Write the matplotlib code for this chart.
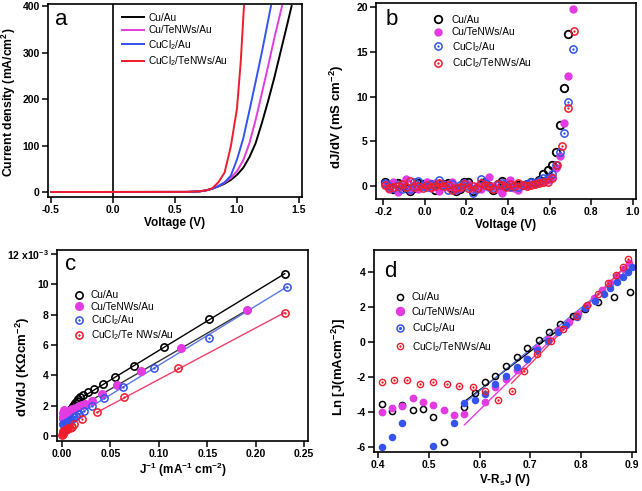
import matplotlib
matplotlib.use("Agg")
import matplotlib.pyplot as plt
from matplotlib.legend_handler import HandlerTuple

plt.rcParams['font.family'] = ['Liberation Sans', 'DejaVu Sans']
plt.rcParams['mathtext.fontset'] = 'custom'
plt.rcParams['mathtext.rm'] = 'Liberation Sans'
plt.rcParams['mathtext.bf'] = 'Liberation Sans:bold'
plt.rcParams['mathtext.default'] = 'bf'
plt.rcParams['axes.unicode_minus'] = False

# ---------------- data ----------------
labels = ['Cu/Au', 'Cu/TeNWs/Au', r'CuCl$_\mathregular{2}$/Au', r'CuCl$_\mathregular{2}$/TeNWs/Au']
labels_c = ['Cu/Au', 'Cu/TeNWs/Au', r'CuCl$_\mathregular{2}$/Au', r'CuCl$_\mathregular{2}$/Te NWs/Au']
col_k, col_m, col_b, col_r = 'black', '#e23be2', '#3453ef', '#f01c2c'

# panel a : J-V curves
va_k = [-0.5, 0.6, 0.7, 0.75, 0.8, 0.85, 0.9, 0.95, 1.0, 1.05, 1.1, 1.15, 1.2, 1.25, 1.3, 1.35, 1.4, 1.44]
ja_k = [0, 0.3, 1.5, 3.5, 7, 12, 18, 26, 37, 52, 75, 105, 148, 195, 245, 300, 355, 400]
va_m = [-0.5, 0.6, 0.7, 0.75, 0.8, 0.85, 0.9, 0.95, 1.0, 1.05, 1.1, 1.15, 1.2, 1.25, 1.3, 1.363]
ja_m = [0, 0.3, 1.5, 3.5, 7, 13, 20, 30, 45, 68, 105, 155, 212, 270, 330, 400]
va_b = [-0.5, 0.6, 0.7, 0.75, 0.8, 0.85, 0.9, 0.95, 1.0, 1.05, 1.1, 1.15, 1.2, 1.274]
ja_b = [0, 0.3, 1.5, 3.5, 7, 13, 21, 35, 70, 115, 175, 237, 300, 400]
va_r = [-0.5, 0.6, 0.7, 0.75, 0.8, 0.85, 0.9, 0.95, 1.0, 1.03, 1.056]
ja_r = [0, 0.3, 1.5, 3.5, 8, 21, 42, 98, 180, 280, 400]

# panel b : dJ/dV
vb = [-0.19, -0.17, -0.15, -0.13, -0.11, -0.09, -0.07, -0.05, -0.03, -0.01,
      0.01, 0.03, 0.05, 0.07, 0.09, 0.11, 0.13, 0.15, 0.17, 0.19,
      0.21, 0.23, 0.25, 0.27, 0.29, 0.31, 0.33, 0.35, 0.37, 0.39,
      0.41, 0.43, 0.45, 0.47, 0.49, 0.51, 0.53, 0.55, 0.57, 0.59,
      0.61, 0.63, 0.65, 0.67, 0.69, 0.71]
gb_k = [0.45, -0.1, -0.35, 0.3, -0.05, -0.2, -0.55, -0.2, 0.3, 0.25,
        0.3, 0.2, -0.5, 0.1, 0.25, 0.3, -0.2, -0.6, -0.3, 0.45,
        0.45, -0.6, -0.2, 0.1, 0.4, 0.0, -0.5, 0.2, 0.55, 0.0,
        -0.05, 0.0, 0.1, 0.15, 0.2, 0.45, 0.3, 0.7, 1.35, 1.8,
        2.35, 3.83, 6.8, 10.9, 17.0]
gb_m = [0.2, -0.3, 0.5, -0.65, 0.1, 0.8, -0.4, 0.1, -0.3, 0.0,
        0.4, -0.2, 0.3, -0.6, 0.2, -0.1, 0.5, -0.4, -0.2, 0.3,
        0.2, -0.3, 0.0, -0.35, 0.2, 1.05, 0.0, -0.3, -0.75, 0.3,
        0.7, -0.2, -0.4, 0.1, 0.0, 0.2, 0.25, 0.4, 0.5, 0.7,
        1.0, 2.0, 3.4, 7.0, 12.3, 19.8]
gb_b = [0.3, 0.0, -0.2, 0.1, -0.3, -0.1, -0.3, 0.4, 0.6, 0.0,
        -0.1, 0.2, 0.1, 0.7, 0.1, -0.4, 0.2, -0.3, 0.1, 0.3,
        0.0, -0.75, -0.3, 0.8, 0.3, -0.1, -0.2, 0.1, 0.3, 0.1,
        -0.15, -0.05, -0.1, 0.1, 0.25, 0.4, 0.3, 0.6, 0.9, 0.95,
        1.3, 2.3, 3.8, 5.9, 9.4, 15.3]
vb_r = [-0.19, -0.17, -0.15, -0.13, -0.11, -0.09, -0.07, -0.05, -0.03, -0.01,
        0.01, 0.03, 0.05, 0.07, 0.09, 0.11, 0.13, 0.15, 0.17, 0.19,
        0.21, 0.23, 0.25, 0.27, 0.29, 0.31, 0.33, 0.35, 0.37, 0.39,
        0.41, 0.43, 0.45, 0.47, 0.49, 0.51, 0.53, 0.55, 0.57, 0.59,
        0.61, 0.635, 0.66, 0.69, 0.715]
gb_r = [0.1, -0.2, -0.1, 0.0, 0.2, -0.1, 0.55, -0.1, 0.0, -0.2,
        0.1, -0.1, 0.0, 0.3, 0.0, 0.1, -0.4, -0.2, -0.1, 0.2,
        -0.2, 0.0, -0.2, 0.3, 0.1, 0.0, -0.3, 0.2, 0.1, -0.1,
        0.2, 0.0, 0.35, 0.1, 0.0, 0.1, 0.2, 0.3, 0.4, 0.5,
        0.85, 2.4, 4.45, 8.7, 17.3]

# panel c : dV/dJ vs 1/J  (units of 1e-3)
xc_k = [0.0015, 0.002, 0.0025, 0.003, 0.0035, 0.004, 0.005, 0.006, 0.007, 0.008, 0.009, 0.010,
        0.011, 0.012, 0.0135, 0.015, 0.017, 0.019, 0.022, 0.027, 0.033, 0.042, 0.055, 0.074,
        0.105, 0.152, 0.230]
yc_k = [1.2, 1.1, 1.05, 1.1, 1.15, 1.25, 1.35, 1.45, 1.55, 1.65, 1.75, 1.85,
        1.95, 2.05, 2.15, 2.3, 2.45, 2.55, 2.7, 2.92, 3.13, 3.46, 3.9, 4.63,
        5.84, 7.7, 10.7]
xc_m = [0.001, 0.0015, 0.002, 0.003, 0.004, 0.005, 0.006, 0.007, 0.008, 0.009, 0.010, 0.012,
        0.014, 0.016, 0.018, 0.021, 0.024, 0.0306, 0.041, 0.0565, 0.082, 0.123, 0.191]
yc_m = [1.2, 1.5, 1.7, 1.55, 1.45, 1.5, 1.55, 1.6, 1.65, 1.7, 1.75, 1.8,
        1.85, 1.9, 1.95, 2.05, 2.1, 2.3, 2.76, 3.36, 4.3, 5.77, 8.29]
xc_b = [0.0005, 0.001, 0.002, 0.003, 0.004, 0.005, 0.006, 0.008, 0.010, 0.012, 0.014, 0.018,
        0.023, 0.0307, 0.0437, 0.0633, 0.095, 0.152, 0.232]
yc_b = [0.8, 0.78, 0.82, 0.85, 0.88, 0.92, 0.95, 1.05, 1.15, 1.25, 1.35, 1.45,
        1.65, 1.97, 2.48, 3.25, 4.45, 6.49, 9.82]
xc_r = [0.0003, 0.0005, 0.0008, 0.001, 0.0015, 0.002, 0.003, 0.004, 0.005, 0.006, 0.008, 0.010,
        0.0127, 0.021, 0.0358, 0.0644, 0.1195, 0.230]
yc_r = [0.05, 0.15, 0.2, 0.3, 0.25, 0.35, 0.38, 0.42, 0.45, 0.5, 0.55, 0.62,
        0.77, 1.1, 1.56, 2.55, 4.45, 8.14]
# linear fits (end points)
fc_k_x, fc_k_y = [0.022, 0.230], [2.6, 10.7]
fc_m_x, fc_m_y = [0.020, 0.191], [1.98, 8.29]
fc_b_x, fc_b_y = [0.015, 0.232], [1.35, 9.82]
fc_r_x, fc_r_y = [0.0358, 0.230], [1.55, 8.14]

# panel d : ln J vs V-RsJ
xd_k = [0.407, 0.427, 0.448, 0.468, 0.489, 0.509, 0.529, 0.570, 0.590, 0.611, 0.631, 0.652,
        0.673, 0.693, 0.716, 0.737, 0.759, 0.783, 0.808, 0.834, 0.865, 0.896]
yd_k = [-3.54, -3.93, -3.6, -3.89, -3.85, -4.3, -5.7, -3.7, -2.9, -2.3, -1.93, -1.37,
        -0.87, -0.36, 0.11, 0.55, 1.03, 1.47, 1.89, 2.27, 2.59, 2.87]
xd_m = [0.407, 0.427, 0.448, 0.468, 0.489, 0.509, 0.529, 0.549, 0.570, 0.611, 0.631, 0.652,
        0.673, 0.693, 0.714, 0.735, 0.755, 0.776, 0.793, 0.81, 0.826, 0.842, 0.857, 0.871,
        0.884, 0.895]
yd_m = [-3.98, -3.75, -3.66, -3.22, -3.41, -3.6, -3.89, -4.2, -4.13, -3.41, -2.55, -2.13,
        -1.6, -0.95, -0.34, 0.15, 0.67, 1.14, 1.6, 2.05, 2.5, 2.95, 3.4, 3.8,
        4.15, 4.5]
xd_b = [0.407, 0.427, 0.448, 0.509, 0.549, 0.570, 0.590, 0.611, 0.631, 0.652, 0.673, 0.693,
        0.714, 0.735, 0.755, 0.771, 0.791, 0.808, 0.827, 0.844, 0.857, 0.870, 0.882, 0.893, 0.900]
yd_b = [-5.98, -5.45, -4.65, -5.94, -4.65, -3.5, -3.29, -3.0, -2.4, -1.95, -1.45, -0.95,
        -0.45, 0.05, 0.55, 0.97, 1.45, 1.95, 2.34, 2.73, 3.07, 3.45, 3.73, 4.02, 4.3]
xd_r = [0.407, 0.431, 0.457, 0.483, 0.509, 0.535, 0.560, 0.586, 0.611, 0.637, 0.663, 0.688,
        0.714, 0.74, 0.764, 0.79, 0.812, 0.833, 0.852, 0.868, 0.882, 0.893]
yd_r = [-2.27, -2.17, -2.17, -2.4, -2.27, -2.42, -2.5, -2.55, -2.83, -3.31, -2.78, -1.66,
        -0.7, 0.03, 0.77, 1.5, 2.1, 2.75, 3.35, 3.85, 4.3, 4.74]
fd_k_x, fd_k_y = [0.570, 0.819], [-3.41, 2.11]
fd_m_x, fd_m_y = [0.570, 0.898], [-4.74, 4.6]
fd_b_x, fd_b_y = [0.570, 0.899], [-3.5, 4.3]
fd_r_x, fd_r_y = [0.663, 0.889], [-2.36, 4.4]

# ---------------- figure ----------------
W, H = 642, 491
fig = plt.figure(figsize=(W / 100, H / 100), dpi=100)


def add_ax(l, r, t, b):
    return fig.add_axes([l / W, 1 - b / H, (r - l) / W, (b - t) / H])


TICK_FS = 7.5
LAB_FS = 8.5
YLAB_FS = 9.5
LEG_FS = 7.3
LET_FS = 16
HT = {tuple: HandlerTuple(ndivide=1, pad=0)}


def style(ax):
    for s in ax.spines.values():
        s.set_linewidth(1.2)
    ax.tick_params(direction='out', length=4, width=1.1, labelsize=TICK_FS, pad=2)
    for t in ax.get_xticklabels() + ax.get_yticklabels():
        t.set_fontweight('bold')


def dotted(ax, x, y, c, ms, mew):
    h1, = ax.plot(x, y, 'o', mfc='none', mec=c, ms=ms, mew=mew, ls='none')
    h2, = ax.plot(x, y, 'o', mfc=c, mec=c, ms=1.3, mew=0.3, ls='none')
    return (h1, h2)


# ---- panel a ----
axa = add_ax(48, 302, 4, 197)
axa.axvline(0, color='black', lw=1.2)
axa.plot(va_k, ja_k, color=col_k, lw=1.4, label=labels[0])
axa.plot(va_m, ja_m, color=col_m, lw=1.4, label=labels[1])
axa.plot(va_b, ja_b, color=col_b, lw=1.4, label=labels[2])
axa.plot(va_r, ja_r, color=col_r, lw=1.4, label=labels[3])
axa.set_xlim(-0.524, 1.524)
axa.set_ylim(-10.7, 404.3)
axa.set_xticks([-0.5, 0.0, 0.5, 1.0, 1.5])
axa.set_xticklabels(['-0.5', '0.0', '0.5', '1.0', '1.5'])
axa.set_yticks([0, 100, 200, 300, 400])
axa.set_xlabel('Voltage (V)', fontsize=LAB_FS, fontweight='bold', labelpad=1)
axa.set_ylabel(r'Current density (mA/cm$^{2}$)', fontsize=8.8, fontweight='bold')
axa.yaxis.set_label_coords(-0.118, 0.49)
style(axa)
axa.legend(loc='upper left', bbox_to_anchor=(0.291, 0.955), frameon=False, fontsize=LEG_FS,
           handlelength=2.2, handletextpad=0.4, labelspacing=0.25, borderpad=0, borderaxespad=0)
axa.text(0.028, 0.891, 'a', transform=axa.transAxes, fontsize=LET_FS, va='baseline')

# ---- panel b ----
axb = add_ax(376, 636, 3, 199)
hb_k, = axb.plot(vb[:len(gb_k)], gb_k, 'o', mfc='none', mec=col_k, ms=5.4, mew=1.3, ls='none')
hb_m, = axb.plot(vb, gb_m, 'o', mfc=col_m, mec=col_m, ms=5.0, ls='none')
hb_b = dotted(axb, vb, gb_b, col_b, 5.2, 1.1)
hb_r = dotted(axb, vb_r, gb_r, col_r, 5.2, 1.1)
axb.set_xlim(-0.234, 1.014)
axb.set_ylim(-1.45, 20.45)
axb.set_xticks([-0.2, 0.0, 0.2, 0.4, 0.6, 0.8, 1.0])
axb.set_xticklabels(['-0.2', '0.0', '0.2', '0.4', '0.6', '0.8', '1.0'])
axb.set_yticks([0, 5, 10, 15, 20])
axb.set_xlabel('Voltage (V)', fontsize=LAB_FS, fontweight='bold', labelpad=1)
axb.set_ylabel(r'dJ/dV (mS cm$^{-2}$)', fontsize=YLAB_FS, fontweight='bold')
axb.yaxis.set_label_coords(-0.115, 0.42)
style(axb)
axb.legend([hb_k, hb_m, hb_b, hb_r], labels, handler_map=HT,
           loc='upper left', bbox_to_anchor=(0.219, 0.94), frameon=False, fontsize=LEG_FS,
           handlelength=1.0, handletextpad=0.85, labelspacing=0.25, borderpad=0, borderaxespad=0)
axb.text(0.038, 0.888, 'b', transform=axb.transAxes, fontsize=LET_FS, va='baseline')

# ---- panel c ----
axc = add_ax(57, 308, 250, 441)
axc.plot(fc_k_x, fc_k_y, color='black', lw=1.0)
axc.plot(fc_m_x, fc_m_y, color='#333333', lw=1.0)
axc.plot(fc_b_x, fc_b_y, color='#5a78e6', lw=1.0)
axc.plot(fc_r_x, fc_r_y, color='#f0406a', lw=1.0)
hc_k, = axc.plot(xc_k, yc_k, 'o', mfc='none', mec=col_k, ms=5.2, mew=1.2, ls='none')
hc_m, = axc.plot(xc_m, yc_m, 'o', mfc=col_m, mec=col_m, ms=5.5, ls='none')
hc_b = dotted(axc, xc_b, yc_b, col_b, 5.2, 1.1)
hc_r = dotted(axc, xc_r, yc_r, col_r, 5.2, 1.1)
axc.set_xlim(-0.0052, 0.254)
axc.set_ylim(-0.33, 12.26)
axc.set_xticks([0.0, 0.05, 0.10, 0.15, 0.20, 0.25])
axc.set_xticklabels(['0.00', '0.05', '0.10', '0.15', '0.20', '0.25'])
axc.set_yticks([0, 2, 4, 6, 8, 10, 12])
axc.set_yticklabels(['0', '2', '4', '6', '8', '10', r'12 x10$^{-3}$'])
axc.set_xlabel(r'J$^{-1}$ (mA$^{-1}$ cm$^{-2}$)', fontsize=LAB_FS, fontweight='bold', labelpad=1)
axc.set_ylabel(r'dV/dJ (KΩcm$^{-2}$)', fontsize=YLAB_FS, fontweight='bold')
axc.yaxis.set_label_coords(-0.1, 0.39)
style(axc)
axc.legend([hc_k, hc_m, hc_b, hc_r], labels_c, handler_map=HT,
           loc='upper left', bbox_to_anchor=(0.066, 0.79), frameon=False, fontsize=LEG_FS,
           handlelength=1.0, handletextpad=0.7, labelspacing=0.15, borderpad=0, borderaxespad=0)
axc.text(0.032, 0.895, 'c', transform=axc.transAxes, fontsize=LET_FS, va='baseline')

# ---- panel d ----
axd = add_ax(374, 636, 250, 452)
axd.plot(fd_k_x, fd_k_y, color='black', lw=1.0)
axd.plot(fd_m_x, fd_m_y, color=col_m, lw=1.0)
axd.plot(fd_b_x, fd_b_y, color='#5a78e6', lw=1.0)
axd.plot(fd_r_x, fd_r_y, color='#f0406a', lw=1.0)
hd_k, = axd.plot(xd_k, yd_k, 'o', mfc='none', mec=col_k, ms=4.4, mew=1.1, ls='none')
axd.plot(xd_m, yd_m, 'o', mfc=col_m, mec=col_m, ms=4.6, ls='none')
axd.plot(xd_b, yd_b, 'o', mfc=col_b, mec=col_b, ms=4.4, ls='none')
hd_r = dotted(axd, xd_r, yd_r, col_r, 4.5, 1.0)
hd_b = (axd.plot([], [], 'o', mfc='none', mec=col_b, ms=5.0, mew=1.1)[0],
        axd.plot([], [], 'o', mfc=col_b, mec=col_b, ms=1.3)[0])
hm_leg, = axd.plot([], [], 'o', mfc=col_m, mec=col_m, ms=5.8, ls='none')
axd.set_xlim(0.392, 0.908)
axd.set_ylim(-6.29, 5.26)
axd.set_xticks([0.4, 0.5, 0.6, 0.7, 0.8, 0.9])
axd.set_xticklabels(['0.4', '0.5', '0.6', '0.7', '0.8', '0.9'])
axd.set_yticks([-6, -4, -2, 0, 2, 4])
axd.set_xlabel(r'V-R$_{s}$J (V)', fontsize=LAB_FS, fontweight='bold', labelpad=1)
axd.set_ylabel(r'Ln [J(mAcm$^{-2}$)]', fontsize=YLAB_FS, fontweight='bold')
axd.yaxis.set_label_coords(-0.099, 0.42)
style(axd)
axd.legend([hd_k, hm_leg, hd_b, hd_r], labels, handler_map=HT,
           loc='upper left', bbox_to_anchor=(0.078, 0.79), frameon=False, fontsize=LEG_FS,
           handlelength=1.0, handletextpad=0.7, labelspacing=0.45, borderpad=0, borderaxespad=0)
axd.text(0.038, 0.868, 'd', transform=axd.transAxes, fontsize=LET_FS, va='baseline')

fig.savefig('out.png', dpi=100)
